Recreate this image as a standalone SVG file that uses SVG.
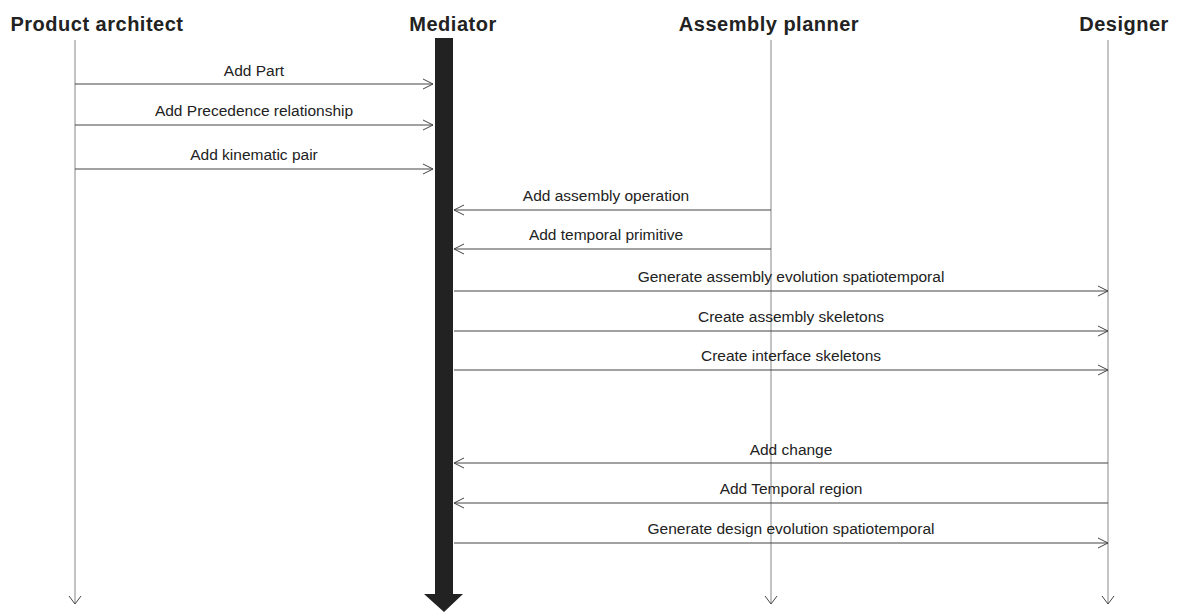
<svg xmlns="http://www.w3.org/2000/svg" width="1177" height="612" viewBox="0 0 1177 612">
<style>
.hdr{font-family:"Liberation Sans",Arial,sans-serif;font-weight:bold;font-size:20px;letter-spacing:0.5px;fill:#222;text-anchor:middle}
.lbl{font-family:"Liberation Sans",Arial,sans-serif;font-size:15.5px;fill:#222;text-anchor:middle}
.life{stroke:#888;stroke-width:1;fill:none}
.msg{stroke:#444;stroke-width:1;fill:none}
.head{stroke:#444;stroke-width:1;fill:none}
</style>
<rect width="1177" height="612" fill="#fff"/>
<g id="product-architect">
<text class="hdr" x="97" y="31">Product architect</text>
<line class="life" x1="75" y1="40" x2="75" y2="604"/>
<polyline class="head" points="69,596 75,604 81,596"/>
</g>
<g id="mediator">
<text class="hdr" x="453" y="31">Mediator</text>
<polygon points="435,38 453,38 453,594 463,594 444,612 424,594 435,594" fill="#222"/>
</g>
<g id="assembly-planner">
<text class="hdr" x="769" y="31">Assembly planner</text>
<line class="life" x1="771" y1="40" x2="771" y2="604"/>
<polyline class="head" points="765,596 771,604 777,596"/>
</g>
<g id="designer">
<text class="hdr" x="1124" y="31">Designer</text>
<line class="life" x1="1108" y1="40" x2="1108" y2="604"/>
<polyline class="head" points="1102,596 1108,604 1114,596"/>
</g>
<g id="connectors">
<line class="msg" x1="75" y1="84" x2="433" y2="84"/><polyline class="head" points="423,79 433,84 423,89"/>
<line class="msg" x1="75" y1="125" x2="433" y2="125"/><polyline class="head" points="423,120 433,125 423,130"/>
<line class="msg" x1="75" y1="169" x2="433" y2="169"/><polyline class="head" points="423,164 433,169 423,174"/>
<line class="msg" x1="771" y1="210" x2="454" y2="210"/><polyline class="head" points="464,205 454,210 464,215"/>
<line class="msg" x1="771" y1="249" x2="454" y2="249"/><polyline class="head" points="464,244 454,249 464,254"/>
<line class="msg" x1="454" y1="291" x2="1108" y2="291"/><polyline class="head" points="1098,286 1108,291 1098,296"/>
<line class="msg" x1="454" y1="331" x2="1108" y2="331"/><polyline class="head" points="1098,326 1108,331 1098,336"/>
<line class="msg" x1="454" y1="370" x2="1108" y2="370"/><polyline class="head" points="1098,365 1108,370 1098,375"/>
<line class="msg" x1="1108" y1="463" x2="454" y2="463"/><polyline class="head" points="464,458 454,463 464,468"/>
<line class="msg" x1="1108" y1="503" x2="454" y2="503"/><polyline class="head" points="464,498 454,503 464,508"/>
<line class="msg" x1="454" y1="543" x2="1108" y2="543"/><polyline class="head" points="1098,538 1108,543 1098,548"/>
</g>
<g id="labels">
<text class="lbl" x="254" y="76">Add Part</text>
<text class="lbl" x="254" y="116">Add Precedence relationship</text>
<text class="lbl" x="254" y="160">Add kinematic pair</text>
<text class="lbl" x="606" y="201">Add assembly operation</text>
<text class="lbl" x="606" y="240">Add temporal primitive</text>
<text class="lbl" x="791" y="282">Generate assembly evolution spatiotemporal</text>
<text class="lbl" x="791" y="322">Create assembly skeletons</text>
<text class="lbl" x="791" y="361">Create interface skeletons</text>
<text class="lbl" x="791" y="455">Add change</text>
<text class="lbl" x="791" y="494">Add Temporal region</text>
<text class="lbl" x="791" y="534">Generate design evolution spatiotemporal</text>
</g>
</svg>
